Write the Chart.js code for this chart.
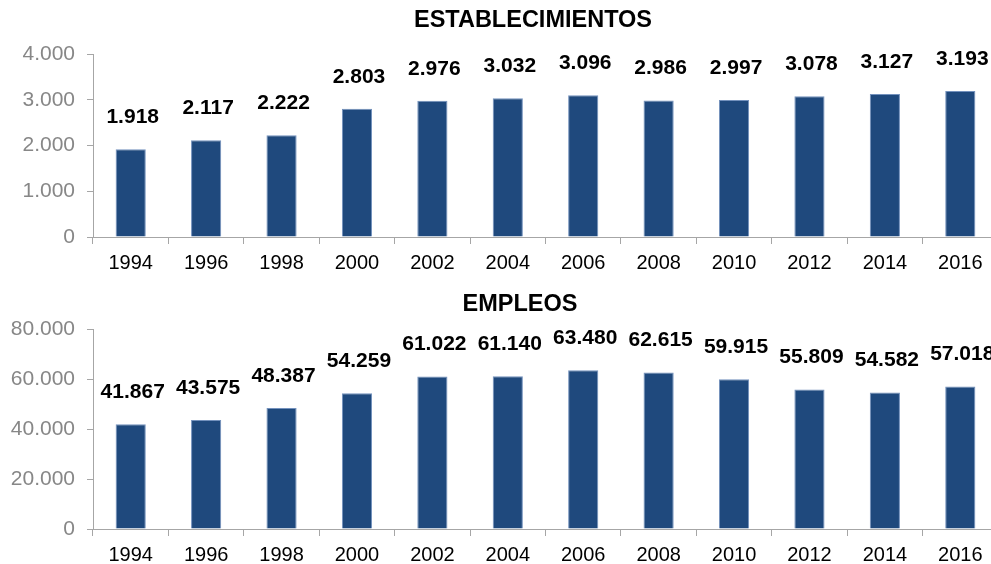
<!DOCTYPE html>
<html>
<head>
<meta charset="utf-8">
<script src="https://cdn.jsdelivr.net/npm/chart.js@4/dist/chart.umd.min.js"></script>
<style>
  html, body { margin: 0; padding: 0; background: #fff; overflow: hidden; }
  #wrap { position: relative; width: 991px; height: 564px; overflow: hidden; }
  .box { position: absolute; left: 0; width: 1000px; height: 282px; }
  #b1 { top: 0; }
  #b2 { top: 282px; }
</style>
</head>
<body>
<div id="wrap">
  <div class="box" id="b1"><canvas id="c1"></canvas></div>
  <div class="box" id="b2"><canvas id="c2"></canvas></div>
</div>
<script>
const years = ['1994','1996','1998','2000','2002','2004','2006','2008','2010','2012','2014','2016'];
const establecimientos = [1918, 2117, 2222, 2803, 2976, 3032, 3096, 2986, 2997, 3078, 3127, 3193];
const empleos = [41867, 43575, 48387, 54259, 61022, 61140, 63480, 62615, 59915, 55809, 54582, 57018];
const title1 = 'ESTABLECIMIENTOS';
const title2 = 'EMPLEOS';

const FONT = "'Liberation Sans', Arial, sans-serif";
const fmt = v => Math.round(v).toString().replace(/\B(?=(\d{3})+(?!\d))/g, '.');

const labelPlugin = {
  id: 'valueLabels',
  afterDatasetsDraw(chart, args, opts) {
    const ctx = chart.ctx;
    ctx.save();
    ctx.font = 'bold 21px ' + FONT;
    ctx.fillStyle = '#000';
    ctx.textAlign = 'center';
    ctx.textBaseline = 'middle';
    const meta = chart.getDatasetMeta(0);
    meta.data.forEach((bar, i) => {
      ctx.fillText(fmt(chart.data.datasets[0].data[i]), bar.x + 2, bar.y - opts.offset);
    });
    if (opts.title) {
      ctx.font = 'bold 23.5px ' + FONT;
      ctx.fillText(opts.title, opts.tx, opts.ty);
    }
    ctx.restore();
  }
};

function makeChart(id, data, max, step, top, xh, title, tx, ty) {
  return new Chart(document.getElementById(id), {
    type: 'bar',
    data: {
      labels: years,
      datasets: [{
        data: data,
        backgroundColor: '#1f497d',
        borderColor: '#7391bd',
        borderWidth: 1,
        categoryPercentage: 1,
        barPercentage: 0.4
      }]
    },
    options: {
      responsive: true,
      maintainAspectRatio: false,
      animation: false,
      layout: { padding: { top: top, left: 0, right: 2, bottom: 0 } },
      plugins: {
        legend: { display: false },
        tooltip: { enabled: false },
        valueLabels: { offset: 32, title: title, tx: tx, ty: ty }
      },
      scales: {
        x: {
          offset: true,
          grid: { display: true, drawOnChartArea: false, offset: true, tickLength: 7, color: '#a6a6a6', tickColor: '#a6a6a6' },
          border: { display: true, color: '#a6a6a6', width: 1 },
          ticks: { color: '#000', font: { family: FONT, size: 20 }, padding: 7, maxRotation: 0, autoSkip: false },
          afterFit(s) { s.height = xh; }
        },
        y: {
          min: 0, max: max,
          grid: { display: true, drawOnChartArea: false, tickLength: 6, color: '#a6a6a6', tickColor: '#a6a6a6' },
          border: { display: true, color: '#a6a6a6', width: 1 },
          ticks: { stepSize: step, color: '#878787', font: { family: FONT, size: 21 }, padding: 12, callback: v => fmt(v) },
          afterFit(s) { s.width = 93; }
        }
      }
    },
    plugins: [labelPlugin]
  });
}

makeChart('c1', establecimientos, 4000, 1000, 54, 45, title1, 533, 21);
makeChart('c2', empleos, 80000, 20000, 47, 35, title2, 520, 23);
</script>
</body>
</html>
